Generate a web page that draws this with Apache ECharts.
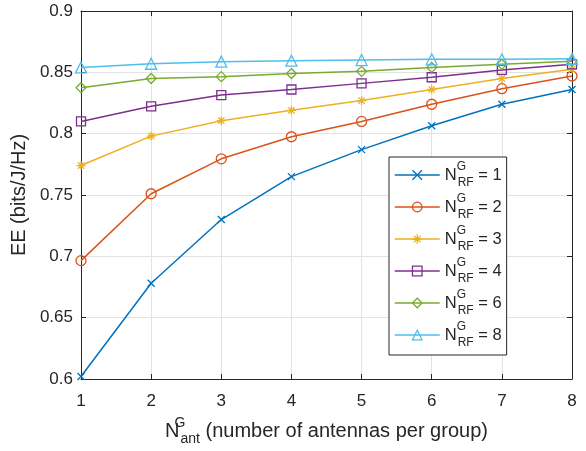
<!DOCTYPE html>
<html>
<head>
<meta charset="utf-8">
<script src="https://cdn.jsdelivr.net/npm/echarts@6/dist/echarts.min.js"></script>
<style>
html,body{margin:0;padding:0;background:#fff;}
#chart{width:586px;height:451px;}
</style>
</head>
<body>
<div id="chart"></div>
<script>
// antennas per group (x axis)
var antennas = [1, 2, 3, 4, 5, 6, 7, 8];
// EE (bits/J/Hz) for each N_RF^G
var ee1 = [0.602, 0.678, 0.730, 0.765, 0.787, 0.8065, 0.824, 0.836];
var ee2 = [0.6965, 0.751, 0.7795, 0.7975, 0.810, 0.824, 0.8367, 0.847];
var ee3 = [0.774, 0.798, 0.8106, 0.819, 0.827, 0.836, 0.845, 0.8525];
var ee4 = [0.810, 0.8223, 0.8315, 0.836, 0.841, 0.846, 0.852, 0.8565];
var ee6 = [0.8375, 0.845, 0.8465, 0.849, 0.8508, 0.854, 0.8565, 0.859];
var ee8 = [0.854, 0.857, 0.8587, 0.8595, 0.860, 0.8606, 0.8606, 0.861];
var rfLabels = ['1', '2', '3', '4', '6', '8'];

var allData = [ee1, ee2, ee3, ee4, ee6, ee8];
var colors = ['#0072BD', '#D95319', '#EDB120', '#7E2F8E', '#77AC30', '#4DBEEE'];
var symbols = [
	'path://M0,0L10,10M10,0L0,10',
	'path://M5,0A5,5,0,1,1,4.99,0Z',
	'path://M5,0L5,10M0,5L10,5M1.5,1.5L8.5,8.5M8.5,1.5L1.5,8.5',
	'path://M0,0L10,0L10,10L0,10Z',
	'path://M5,0L10,5L5,10L0,5Z',
	'path://M5,0L10,8.7L0,8.7Z'
];
var sizes = [7, 10, 9, 9, 10, 11];

var FONT = "'Liberation Sans', Arial, Helvetica, sans-serif";
var INK = '#262626';

var chart = echarts.init(document.getElementById('chart'), null, {renderer: 'canvas'});

var series = [];
var legendData = [];
for (var i = 0; i < allData.length; i++) {
	var pts = [];
	for (var k = 0; k < antennas.length; k++) pts.push([antennas[k], allData[i][k]]);
	series.push({
		name: rfLabels[i],
		type: 'line',
		data: pts,
		xAxisIndex: 0,
		yAxisIndex: 0,
		symbol: symbols[i],
		symbolSize: sizes[i],
		showAllSymbol: true,
		lineStyle: {color: colors[i], width: 1.5},
		itemStyle: {color: 'rgba(0,0,0,0)', borderColor: colors[i], borderWidth: 1.3},
		emphasis: {disabled: true},
		animation: false,
		z: 3 + i
	});
	legendData.push({
		name: rfLabels[i],
		itemStyle: {color: 'rgba(0,0,0,0)', borderColor: colors[i], borderWidth: 1.3},
		lineStyle: {color: colors[i], width: 1.5}
	});
}

var subRich = {
	n: {fontSize: 16.5, fontFamily: FONT, color: INK, lineHeight: 28},
	sup: {fontSize: 12, fontFamily: FONT, color: INK, lineHeight: 12, verticalAlign: 'top', width: 1},
	sub: {fontSize: 12, fontFamily: FONT, color: INK, lineHeight: 12, verticalAlign: 'bottom'},
	t: {fontSize: 16.5, fontFamily: FONT, color: INK, lineHeight: 28}
};

var axisBase = {
	type: 'value',
	axisLine: {show: true, lineStyle: {color: INK, width: 1}},
	axisTick: {show: true, inside: true, length: 5, lineStyle: {color: INK}},
	splitLine: {show: false},
	axisLabel: {show: false}
};

chart.setOption({
	backgroundColor: '#ffffff',
	animation: false,
	grid: {left: 81, right: 14, top: 11, bottom: 72, containLabel: false},
	legend: {
		orient: 'vertical',
		left: 389,
		top: 157,
		padding: [4, 5, 6, 5],
		itemWidth: 45,
		itemHeight: 12,
		itemGap: 4,
		backgroundColor: '#ffffff',
		borderColor: INK,
		borderWidth: 1,
		data: legendData,
		formatter: function (name) {
			return '{n|N}{sup|G}{sub|RF}{t| = ' + name + '}';
		},
		textStyle: {fontFamily: FONT, color: INK, fontSize: 16.5, rich: subRich}
	},
	xAxis: [
		{
			type: 'value', min: 1, max: 8, interval: 1,
			name: '{n|N}{sup|G}{sub|ant}{t| (number of antennas per group)}',
			nameLocation: 'middle',
			nameGap: 37,
			nameTextStyle: {fontFamily: FONT, color: INK, fontSize: 20, rich: {
				n: {fontSize: 20, fontFamily: FONT, color: INK, lineHeight: 30},
				sup: {fontSize: 14, fontFamily: FONT, color: INK, lineHeight: 13, verticalAlign: 'top', width: 1},
				sub: {fontSize: 14, fontFamily: FONT, color: INK, lineHeight: 13, verticalAlign: 'bottom'},
				t: {fontSize: 20, fontFamily: FONT, color: INK, lineHeight: 30}
			}},
			axisLine: {show: true, lineStyle: {color: INK, width: 1}},
			axisTick: {show: true, inside: true, length: 5, lineStyle: {color: INK}},
			axisLabel: {fontFamily: FONT, fontSize: 17, color: INK, margin: 14},
			splitLine: {show: true, lineStyle: {color: '#e3e3e3', width: 1}}
		},
		Object.assign({}, axisBase, {position: 'top', min: 1, max: 8, interval: 1})
	],
	yAxis: [
		{
			type: 'value', min: 0.6, max: 0.9, interval: 0.05,
			name: 'EE (bits/J/Hz)',
			nameLocation: 'middle',
			nameGap: 43,
			nameTextStyle: {fontFamily: FONT, color: INK, fontSize: 20},
			axisLine: {show: true, lineStyle: {color: INK, width: 1}},
			axisTick: {show: true, inside: true, length: 5, lineStyle: {color: INK}},
			axisLabel: {fontFamily: FONT, fontSize: 17, color: INK, margin: 8},
			splitLine: {show: true, lineStyle: {color: '#e3e3e3', width: 1}}
		},
		Object.assign({}, axisBase, {position: 'right', min: 0.6, max: 0.9, interval: 0.05})
	],
	series: series
});
</script>
</body>
</html>
